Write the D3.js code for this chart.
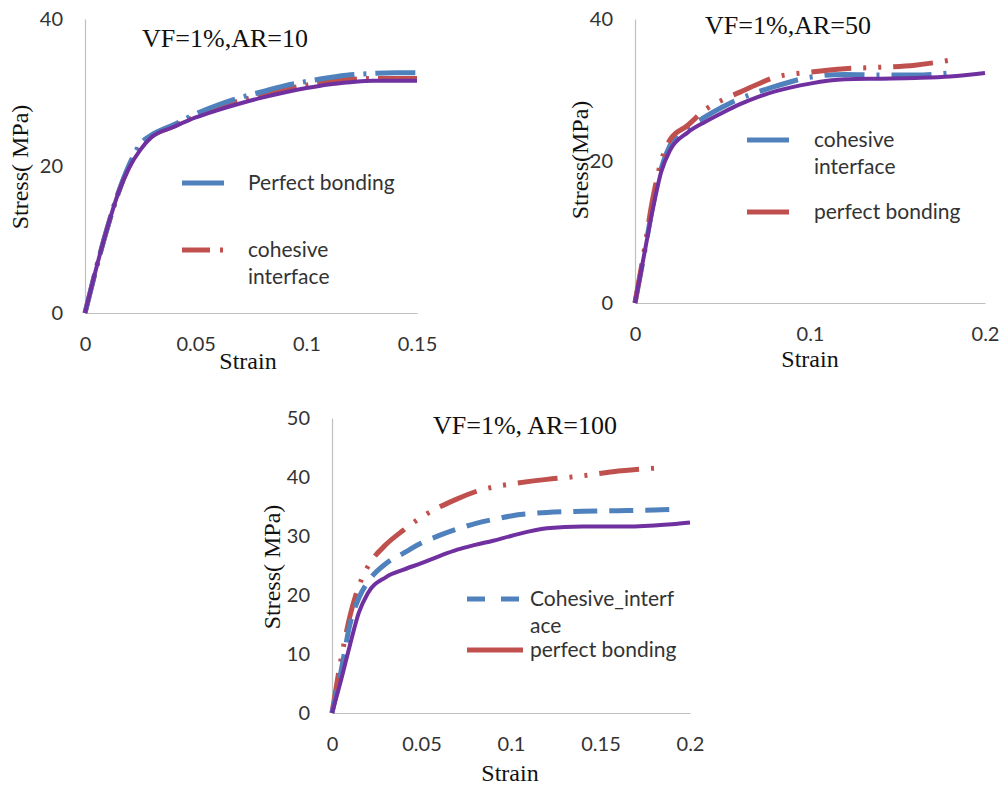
<!DOCTYPE html>
<html>
<head>
<meta charset="utf-8">
<script src="https://cdn.jsdelivr.net/npm/d3@7"></script>
<style>
  body { margin: 0; background: #fff; }
  .tick text { font-family: Lato, sans-serif; font-size: 20px; fill: #333; }
  .legend text { font-family: Lato, sans-serif; font-size: 21px; fill: #333; }
  .title, .axis-title { font-family: "Liberation Serif", "Times New Roman", serif; fill: #111; }
</style>
</head>
<body>
<div class="chart"></div>
<script>
// panel 1: VF=1%, AR=10
const p1Strain = [0, 0.005, 0.01, 0.015, 0.02, 0.025, 0.03, 0.04, 0.05, 0.06, 0.07, 0.08, 0.09, 0.1, 0.11, 0.12, 0.13, 0.14, 0.15];
const p1Matrix = [0, 6, 11.5, 16.3, 19.8, 22.2, 23.9, 25.3, 26.6, 27.6, 28.5, 29.3, 30, 30.6, 31.1, 31.4, 31.6, 31.6, 31.6];
const p1Perfect = [0, 6, 11.5, 16.3, 20.2, 23, 24.2, 25.6, 27.1, 28.3, 29.3, 30.1, 30.9, 31.5, 32, 32.4, 32.6, 32.7, 32.7];
const p1Cohesive = [0, 6, 11.5, 16.3, 20, 22.6, 24, 25.4, 26.8, 27.9, 28.9, 29.7, 30.4, 31, 31.5, 31.8, 31.9, 31.9, 31.9];

// panel 2: VF=1%, AR=50
const p2Strain = [0, 0.005, 0.01, 0.015, 0.02, 0.03, 0.04, 0.05, 0.06, 0.07, 0.08, 0.1, 0.12, 0.14, 0.16, 0.18, 0.2];
const p2Matrix = [0, 6.5, 13, 18.5, 21.5, 24, 25.5, 26.8, 28, 29, 29.8, 30.9, 31.5, 31.6, 31.7, 31.9, 32.4];
const p2Cohesive = [0, 6.5, 13.5, 19, 22.2, 24.6, 26.2, 27.6, 28.8, 29.7, 30.5, 31.8, 32.2, 32.1, 32.1, 32.4, null];
const p2Perfect = [0, 7, 14.5, 20, 23, 25, 27.2, 28.6, 29.7, 30.8, 31.8, 32.5, 33, 33.2, 33.5, 34.2, null];

// panel 3: VF=1%, AR=100
const p3Strain = [0, 0.005, 0.01, 0.015, 0.02, 0.03, 0.04, 0.05, 0.06, 0.07, 0.08, 0.09, 0.1, 0.12, 0.14, 0.16, 0.18, 0.19, 0.2];
const p3Matrix = [0, 5.5, 11.5, 17, 20.3, 23, 24.3, 25.4, 26.6, 27.7, 28.5, 29.2, 30, 31.3, 31.6, 31.6, 31.8, 32, 32.3];
const p3Cohesive = [0, 7, 15, 19.5, 22.2, 25.3, 27.1, 28.8, 30.1, 31.2, 32.1, 32.8, 33.4, 34, 34.2, 34.3, 34.4, 34.5, null];
const p3Perfect = [0, 9, 16.4, 21.5, 24.8, 28.5, 31, 33.2, 34.9, 36.3, 37.5, 38.3, 38.8, 39.6, 40.2, 41, 41.5, null, null];

const xTicks1 = [0, 0.05, 0.1, 0.15];
const yTicks1 = [0, 20, 40];
const xTicks2 = [0, 0.1, 0.2];
const yTicks2 = [0, 20, 40];
const xTicks3 = [0, 0.05, 0.1, 0.15, 0.2];
const yTicks3 = [0, 10, 20, 30, 40, 50];

const blue = "#4F81BD", red = "#C0504D", purple = "#7030A0";

const svg = d3.select(".chart").append("svg")
  .attr("width", 1006)
  .attr("height", 789);

const panels = [
  {
    left: 85, right: 417, top: 19, bottom: 313,
    xMax: 0.15, yMax: 40, xTicks: xTicks1, yTicks: yTicks1,
    title: "VF=1%,AR=10", titleX: 225, titleY: 47,
    xTitleX: 248, xTitleY: 369, yTitleX: 28, yTitleY: 167,
    strain: p1Strain,
    series: [
      { values: p1Cohesive, color: red, dash: "40,9,3,9" },
      { values: p1Perfect, color: blue, dash: "40,9,3,9" },
      { values: p1Matrix, color: purple, dash: null }
    ],
    legend: [
      { x: 182, y: 183, color: blue, dash: null, len: 42, lines: ["Perfect bonding"] },
      { x: 182, y: 250, color: red, dash: "28,10,3,30", len: 42, lines: ["cohesive", "interface"] }
    ],
    legendTextX: 248
  },
  {
    left: 635, right: 985, top: 19, bottom: 303,
    xMax: 0.2, yMax: 40, xTicks: xTicks2, yTicks: yTicks2,
    title: "VF=1%,AR=50", titleX: 788, titleY: 34,
    xTitleX: 810, xTitleY: 367, yTitleX: 588, yTitleY: 160,
    strain: p2Strain,
    series: [
      { values: p2Cohesive, color: blue, dash: "40,12,3,12" },
      { values: p2Perfect, color: red, dash: "40,12,3,12,3,12" },
      { values: p2Matrix, color: purple, dash: null }
    ],
    legend: [
      { x: 747, y: 140, color: blue, dash: null, len: 42, lines: ["cohesive", "interface"] },
      { x: 747, y: 212, color: red, dash: null, len: 42, lines: ["perfect bonding"] }
    ],
    legendTextX: 814
  },
  {
    left: 332, right: 690, top: 418, bottom: 713,
    xMax: 0.2, yMax: 50, xTicks: xTicks3, yTicks: yTicks3,
    title: "VF=1%, AR=100", titleX: 525, titleY: 434,
    xTitleX: 510, xTitleY: 781, yTitleX: 280, yTitleY: 567,
    strain: p3Strain,
    series: [
      { values: p3Perfect, color: red, dash: "40,12,3,12,3,12" },
      { values: p3Cohesive, color: blue, dash: "24,12" },
      { values: p3Matrix, color: purple, dash: null }
    ],
    legend: [
      { x: 467, y: 599, color: blue, dash: "18,16", len: 56, lines: ["Cohesive_interf", "ace"] },
      { x: 467, y: 650, color: red, dash: null, len: 56, lines: ["perfect bonding"] }
    ],
    legendTextX: 530
  }
];

panels.forEach(p => {
  const x = d3.scaleLinear().domain([0, p.xMax]).range([p.left, p.right]);
  const y = d3.scaleLinear().domain([0, p.yMax]).range([p.bottom, p.top]);
  const g = svg.append("g");

  // axes: light grey lines, no tick marks
  const xAxis = g.append("g")
    .attr("transform", `translate(0, ${p.bottom})`)
    .call(d3.axisBottom(x).tickValues(p.xTicks).tickSize(0).tickPadding(24)
      .tickFormat(d => d === 0 ? "0" : String(+d.toFixed(2))));
  const yAxis = g.append("g")
    .attr("transform", `translate(${p.left}, 0)`)
    .call(d3.axisLeft(y).tickValues(p.yTicks).tickSize(0).tickPadding(22));
  [xAxis, yAxis].forEach(a => a.select(".domain").attr("stroke", "#bfbfbf").attr("stroke-width", 1.2));

  const line = d3.line()
    .defined(d => d[1] != null)
    .x(d => x(d[0]))
    .y(d => y(d[1]))
    .curve(d3.curveMonotoneX);

  p.series.forEach(s => {
    g.append("path")
      .datum(p.strain.map((v, i) => [v, s.values[i]]))
      .attr("d", line)
      .attr("fill", "none")
      .attr("stroke", s.color)
      .attr("stroke-width", s.dash ? 5 : 4)
      .attr("stroke-dasharray", s.dash);
  });

  g.append("text").attr("class", "title")
    .attr("x", p.titleX).attr("y", p.titleY)
    .attr("text-anchor", "middle")
    .style("font-size", "26px")
    .text(p.title);

  g.append("text").attr("class", "axis-title")
    .attr("x", p.xTitleX).attr("y", p.xTitleY)
    .attr("text-anchor", "middle")
    .style("font-size", "24px")
    .text("Strain");

  g.append("text").attr("class", "axis-title")
    .attr("transform", `translate(${p.yTitleX}, ${p.yTitleY}) rotate(-90)`)
    .attr("text-anchor", "middle")
    .style("font-size", "24px")
    .text(p === panels[1] ? "Stress(MPa)" : "Stress( MPa)");

  const lg = g.append("g").attr("class", "legend");
  p.legend.forEach(l => {
    lg.append("line")
      .attr("x1", l.x).attr("x2", l.x + l.len)
      .attr("y1", l.y).attr("y2", l.y)
      .attr("stroke", l.color)
      .attr("stroke-width", 5)
      .attr("stroke-dasharray", l.dash);
    l.lines.forEach((t, i) => {
      lg.append("text")
        .attr("x", p.legendTextX)
        .attr("y", l.y + i * 27)
        .attr("dy", "0.35em")
        .text(t);
    });
  });
});
</script>
</body>
</html>
